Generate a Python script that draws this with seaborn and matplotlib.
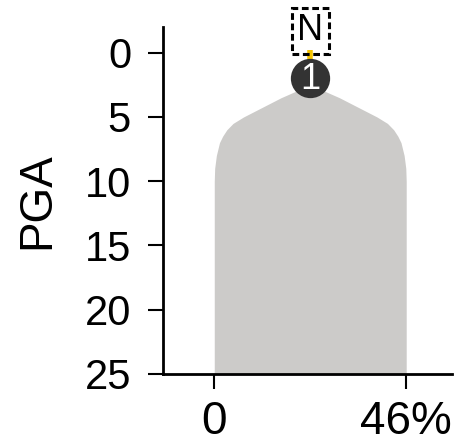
import matplotlib
matplotlib.use("Agg")
import matplotlib.pyplot as plt
import numpy as np
import pandas as pd
import seaborn as sns

# profile of the shape: depth (PGA) vs. total width in percent
depth = [3.0, 3.5, 4.0, 4.5, 5.0, 5.5, 6.0, 6.5, 7.0, 8.0, 9.0, 10.0, 25.0]
width_pct = [7, 14, 20, 26, 32, 37, 40, 42, 43.5, 45, 45.8, 46, 46]
max_pct = 46
marker_depth = 2.0
marker_label = "1"
top_label = "N"
ytick_vals = [0, 5, 10, 15, 20, 25]
xtick_vals = [0, 46]
xtick_labels = ["0", "46%"]

df = pd.DataFrame({"depth": depth, "width": width_pct})
center = max_pct / 2
df["left"] = center - df["width"] / 2
df["right"] = center + df["width"] / 2

sns.set_style("ticks")
plt.rcParams["font.family"] = ["Liberation Sans", "DejaVu Sans"]

fig = plt.figure(figsize=(4.59, 4.44), dpi=100)
ax = fig.add_axes([0.355, 0.158, 0.63, 0.781])

ax.fill_betweenx(df["depth"], df["left"], df["right"], color="#cccbc9", lw=0)

# yellow stem and the numbered marker
ax.plot([center, center], [-0.2, marker_depth], color="#f5c400", lw=4, solid_capstyle="butt", zorder=3)
ax.scatter([center], [marker_depth], s=800, color="#333333", lw=0, zorder=4, clip_on=False)
ax.text(center, marker_depth + 0.05, marker_label, color="white", fontsize=26, ha="center", va="center",
        zorder=5)
ax.text(center, -0.35, top_label, fontsize=26, ha="center", va="bottom", clip_on=False, color="black",
        bbox=dict(boxstyle="square,pad=0.15", fc="none", ec="black", ls=(0, (2.2, 1.2)), lw=2.2))

ax.set_ylim(25, -2)
ax.set_xlim(-12.3, 57)
ax.set_yticks(ytick_vals)
ax.set_xticks(xtick_vals)
ax.set_xticklabels(xtick_labels)
ax.set_ylabel("PGA", fontsize=33, labelpad=18, color="black")
ax.tick_params(axis="y", labelsize=30, length=11, width=1.5, pad=12, color="black", labelcolor="black")
ax.tick_params(axis="x", labelsize=33, length=11, width=1.5, pad=8, color="black", labelcolor="black")
sns.despine(ax=ax)
for s in ["left", "bottom"]:
    ax.spines[s].set_linewidth(2)
    ax.spines[s].set_color("black")

fig.savefig("out.png", dpi=100)
